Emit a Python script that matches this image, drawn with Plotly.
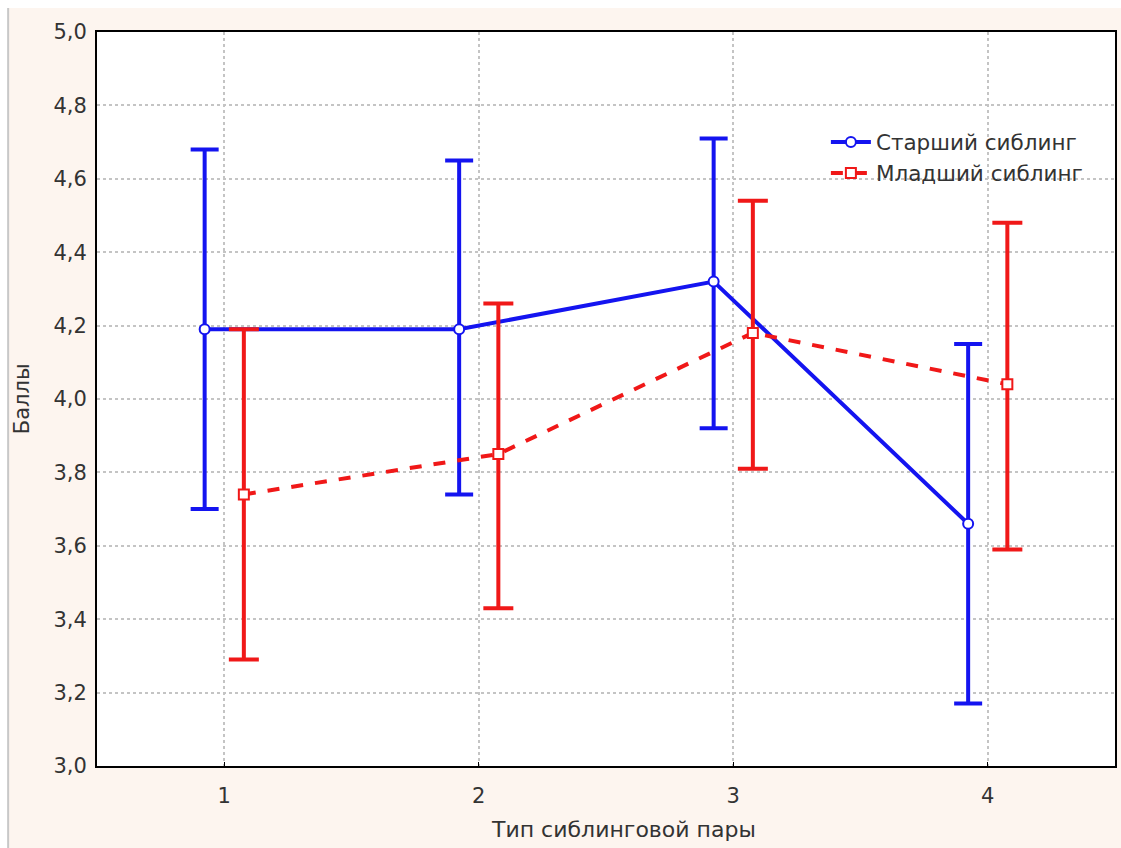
import plotly.graph_objects as go

categories = [1, 2, 3, 4]
older_mean = [4.19, 4.19, 4.32, 3.66]
older_upper = [4.68, 4.65, 4.71, 4.15]
older_lower = [3.70, 3.74, 3.92, 3.17]
younger_mean = [3.74, 3.85, 4.18, 4.04]
younger_upper = [4.19, 4.26, 4.54, 4.48]
younger_lower = [3.29, 3.43, 3.81, 3.59]
y_ticks = [3.0, 3.2, 3.4, 3.6, 3.8, 4.0, 4.2, 4.4, 4.6, 4.8, 5.0]

offset = 0.077
BLUE = "#1414f0"
RED = "#f01818"
FONT = "DejaVu Sans, Liberation Sans, Arial, sans-serif"

fig = go.Figure()
fig.add_trace(go.Scatter(
    x=[c - offset for c in categories], y=older_mean, name="Старший сиблинг",
    mode="lines+markers",
    line=dict(color=BLUE, width=4),
    marker=dict(symbol="circle", size=10, color="white", line=dict(color=BLUE, width=2)),
    error_y=dict(type="data", symmetric=False,
                 array=[u - m for u, m in zip(older_upper, older_mean)],
                 arrayminus=[m - l for m, l in zip(older_mean, older_lower)],
                 color=BLUE, thickness=4, width=14),
))
fig.add_trace(go.Scatter(
    x=[c + offset for c in categories], y=younger_mean, name="Младший сиблинг",
    mode="lines+markers",
    line=dict(color=RED, width=4, dash="dash"),
    marker=dict(symbol="square", size=10, color="white", line=dict(color=RED, width=2)),
    error_y=dict(type="data", symmetric=False,
                 array=[u - m for u, m in zip(younger_upper, younger_mean)],
                 arrayminus=[m - l for m, l in zip(younger_mean, younger_lower)],
                 color=RED, thickness=4, width=15),
))

# white outer strips (top/left) and thin frame line of the outer panel
fig.add_shape(type="rect", xref="paper", yref="paper",
              x0=-0.1, x1=-0.0873, y0=-0.12, y1=1.05,
              fillcolor="white", line=dict(width=0), layer="below")
fig.add_shape(type="rect", xref="paper", yref="paper",
              x0=-0.1, x1=1.01, y0=1.0327, y1=1.05,
              fillcolor="white", line=dict(width=0), layer="below")
fig.add_shape(type="line", xref="paper", yref="paper",
              x0=-0.0873, x1=-0.0873, y0=-0.12, y1=1.0327,
              line=dict(color="#c8c8c8", width=2), layer="below")

# axis titles
fig.add_annotation(text="Тип сиблинговой пары", xref="paper", yref="paper",
                   x=0.5176, y=-0.087, xanchor="center", yanchor="middle",
                   showarrow=False, font=dict(size=22, color="#333333"))
fig.add_annotation(text="Баллы", xref="paper", yref="paper",
                   x=-0.0735, y=0.5, xanchor="center", yanchor="middle", textangle=-90,
                   showarrow=False, font=dict(size=21, color="#333333"))

fig.update_layout(
    width=1121, height=848,
    margin=dict(l=97, r=4, t=32, b=82),
    paper_bgcolor="#fdf5ef",
    plot_bgcolor="white",
    separators=", ",
    font=dict(family=FONT, size=21, color="#333333"),
    showlegend=True,
    legend=dict(x=0.716, y=0.878, xanchor="left", yanchor="top",
                bgcolor="rgba(255,255,255,0)", font=dict(size=21.5, color="#333333"),
                tracegroupgap=0, itemwidth=40),
    xaxis=dict(range=[0.5, 4.5], tickvals=categories, ticktext=[str(c) for c in categories],
               showgrid=True, gridcolor="#c4c4c4", griddash="dot", gridwidth=2,
               showline=True, linecolor="black", linewidth=2, mirror=True,
               ticks="inside", ticklen=4, tickcolor="black",
               ticklabelstandoff=10, zeroline=False),
    yaxis=dict(range=[3.0, 5.0], tickvals=y_ticks, tickformat=".1f",
               showgrid=True, gridcolor="#c4c4c4", griddash="dot", gridwidth=2,
               showline=True, linecolor="black", linewidth=2, mirror=True,
               ticks="", ticklabelstandoff=4, zeroline=False),
)

fig.write_html("out.html")
